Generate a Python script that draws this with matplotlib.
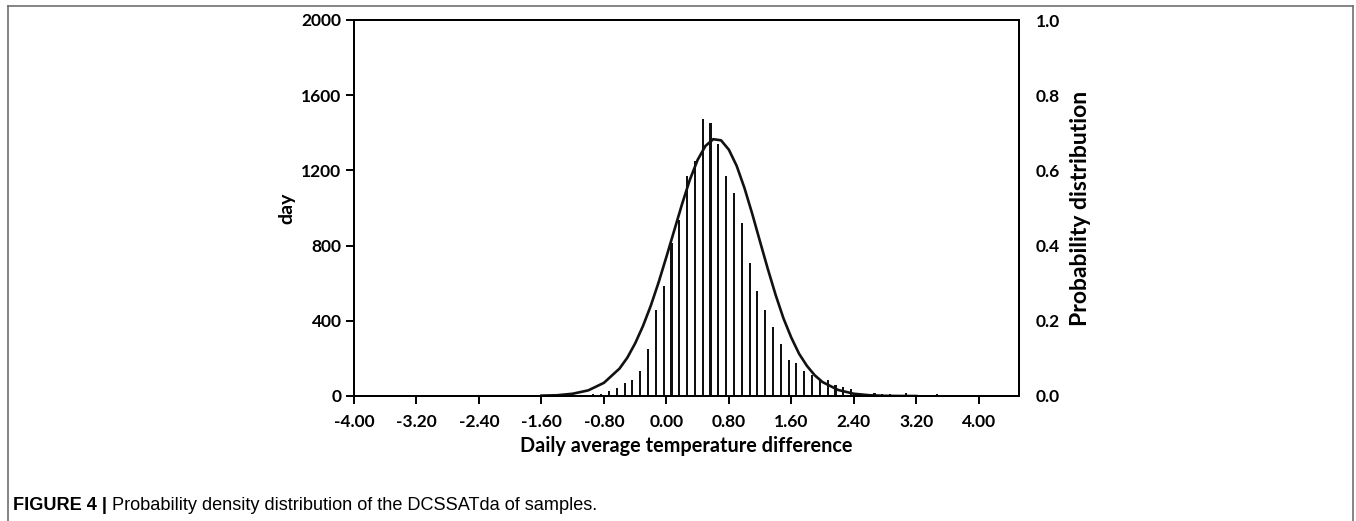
import matplotlib
matplotlib.use("Agg")
import matplotlib.pyplot as plt
from matplotlib.lines import Line2D
import numpy as np

# histogram: temperature difference class -> number of days
bin_centers = [-1.5, -1.4, -1.3, -1.2, -1.1, -1.0, -0.9, -0.8, -0.7, -0.6,
               -0.5, -0.4, -0.3, -0.2, -0.1, 0.0, 0.1, 0.2, 0.3, 0.4,
               0.5, 0.6, 0.7, 0.8, 0.9, 1.0, 1.1, 1.2, 1.3, 1.4,
               1.5, 1.6, 1.7, 1.8, 1.9, 2.0, 2.1, 2.2, 2.3, 2.4,
               2.5, 2.6, 2.7, 2.8, 2.9, 3.0, 3.1, 3.2, 3.3, 3.4, 3.5]
day_counts = [4, 2, 3, 3, 5, 7, 11, 11, 28, 43,
              69, 87, 131, 250, 459, 583, 812, 938, 1170, 1248,
              1473, 1450, 1340, 1170, 1082, 918, 706, 560, 459, 366,
              277, 194, 175, 132, 114, 83, 87, 59, 48, 37,
              18, 12, 18, 12, 12, 0, 16, 7, 0, 7, 9]

# probability density curve
curve_x = [-1.6, -1.4, -1.2, -1.0, -0.8, -0.6, -0.5, -0.4, -0.3, -0.2,
           -0.1, 0.0, 0.1, 0.2, 0.3, 0.4, 0.5, 0.6, 0.7, 0.8,
           0.9, 1.0, 1.1, 1.2, 1.3, 1.4, 1.5, 1.6, 1.7, 1.8,
           1.9, 2.0, 2.2, 2.4, 2.6, 2.8, 3.0, 3.2]
curve_p = [0.001, 0.002, 0.006, 0.015, 0.035, 0.073, 0.102, 0.140, 0.186, 0.240,
           0.302, 0.370, 0.440, 0.510, 0.575, 0.628, 0.665, 0.683, 0.680, 0.655,
           0.612, 0.553, 0.484, 0.410, 0.337, 0.268, 0.206, 0.155, 0.112, 0.080,
           0.055, 0.037, 0.016, 0.006, 0.002, 0.0005, 0.0, 0.0]

x_ticks = [-4.0, -3.2, -2.4, -1.6, -0.8, 0.0, 0.8, 1.6, 2.4, 3.2, 4.0]
day_ticks = [0, 400, 800, 1200, 1600, 2000]
prob_ticks = [0.0, 0.2, 0.4, 0.6, 0.8, 1.0]

font = "Lato"
W, H = 1356, 521
fig = plt.figure(figsize=(W / 100, H / 100), dpi=100)
ax = fig.add_axes([354 / W, 1 - 396 / H, (1019 - 354) / W, (396 - 20) / H])

# bars sit slightly left of the class value, like in the source chart
ax.bar(np.array(bin_centers) - 0.035, day_counts, width=0.027,
       color="#111111", linewidth=0)
ax.set_xlim(-4.0, 4.515)
ax.set_ylim(0, 2000)
ax.set_xticks(x_ticks)
ax.set_xticklabels(["%.2f" % v for v in x_ticks])
ax.set_yticks(day_ticks)
ax.set_yticklabels([str(v) for v in day_ticks])
ax.tick_params(axis="both", direction="out", length=6, width=1.4,
               labelsize=12.5)
ax.tick_params(axis="x", pad=7)
ax.tick_params(axis="y", pad=3)
for lab in ax.get_xticklabels() + ax.get_yticklabels():
    lab.set_fontfamily(font)
    lab.set_fontweight("bold")
ax.set_xlabel("Daily average temperature difference", fontsize=14.3,
              fontweight="bold", fontfamily=font, labelpad=4)
ax.set_ylabel("day", fontsize=14, fontweight="bold", fontfamily=font,
              labelpad=4)
for s in ax.spines.values():
    s.set_linewidth(1.4)

ax2 = ax.twinx()
ax2.plot(curve_x, curve_p, color="#111111", linewidth=1.9)
ax2.set_ylim(0, 1.0)
ax2.set_yticks(prob_ticks)
ax2.set_yticklabels(["%.1f" % v for v in prob_ticks])
ax2.tick_params(axis="y", length=0, labelsize=12.5, pad=12)
for lab in ax2.get_yticklabels():
    lab.set_fontfamily(font)
    lab.set_fontweight("bold")
ax2.set_ylabel("Probability distribution", fontsize=16.5, fontweight="bold",
               fontfamily=font, labelpad=7)
for s in ax2.spines.values():
    s.set_linewidth(1.4)

# gray frame of the figure panel (open at the bottom)
frame = dict(color="#707070", linewidth=1.2, transform=fig.transFigure)
fig.add_artist(Line2D([8 / W, 8 / W], [0, 1 - 6 / H], **frame))
fig.add_artist(Line2D([8 / W, 1353 / W], [1 - 6 / H, 1 - 6 / H], **frame))
fig.add_artist(Line2D([1353 / W, 1353 / W], [0, 1 - 6 / H], **frame))

# caption
t = fig.text(13 / W, 1 - 505 / H, "FIGURE 4 | ", fontsize=13.1,
             fontweight="bold", fontfamily="Liberation Sans", va="center")
fig.canvas.draw()
bb = t.get_window_extent()
fig.text(bb.x1 / W, 1 - 505 / H,
         "Probability density distribution of the DCSSATda of samples.",
         fontsize=13.1, fontfamily="Liberation Sans", va="center")

fig.savefig("out.png", dpi=100)
